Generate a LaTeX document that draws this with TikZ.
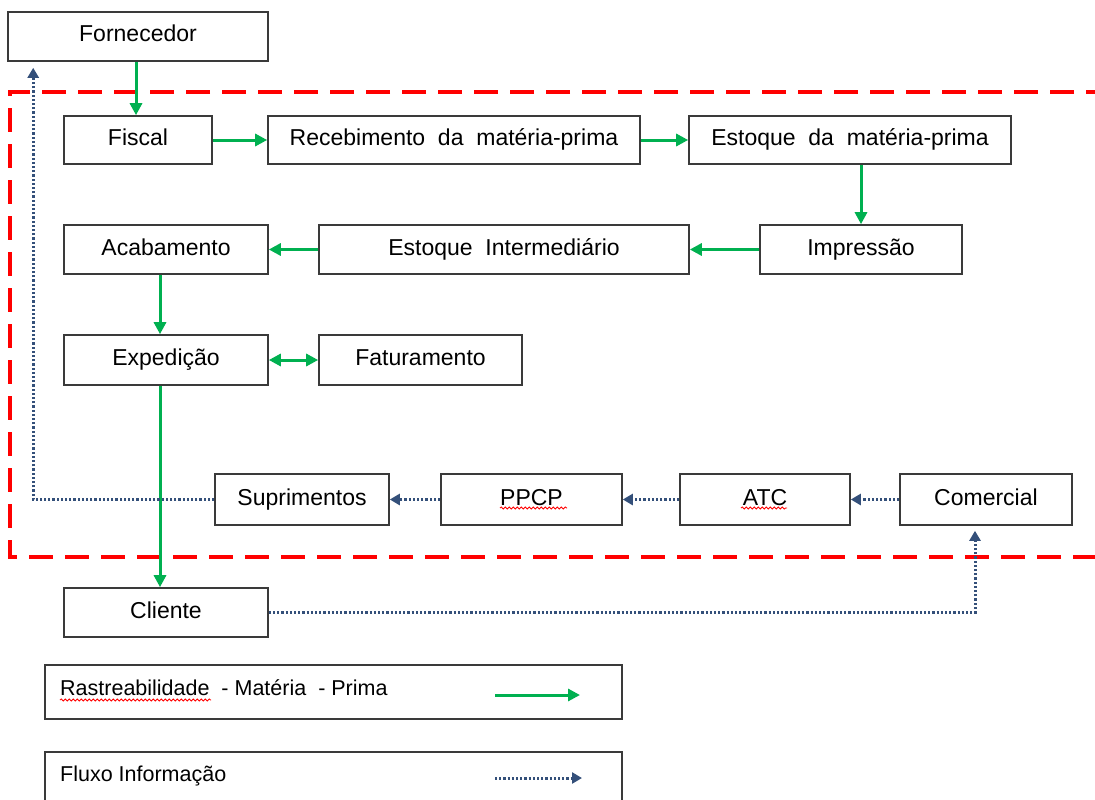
\documentclass[tikz,border=0pt]{standalone}
\usepackage{fontspec}
\setmainfont{Liberation Sans}
\usetikzlibrary{arrows.meta,decorations.pathmorphing,calc}
\definecolor{grn}{HTML}{00B050}
\definecolor{infob}{HTML}{34507A}
\definecolor{bord}{HTML}{3A3A3A}
\begin{document}
\begin{tikzpicture}[x=1pt,y=-1pt,
  box/.style={draw=bord, line width=1.6pt, inner sep=0pt, align=center,
    font=\fontsize{23}{27}\selectfont, text height=16.5pt, text depth=5.5pt},
  legtext/.style={font=\fontsize{21.5}{26}\selectfont, inner sep=0pt, anchor=base west},
  grarrow/.style={draw=grn, line width=3pt, -{Triangle[length=12pt,width=12pt]}},
  grboth/.style={draw=grn, line width=3pt, {Triangle[length=12pt,width=12pt]}-{Triangle[length=12pt,width=12pt]}},
  infoarrow/.style={draw=infob, line width=3pt, dash pattern=on 2.2pt off 2pt, -{Triangle[length=10pt,width=11pt]}},
  wavy/.style={draw=red, line width=0.8pt, decorate, decoration={snake, segment length=4pt, amplitude=1.1pt}},
  frame/.style={draw=red, line width=4.5pt, dash pattern=on 24pt off 12pt}
]
\useasboundingbox (0,0) rectangle (1095,800);
\clip (0,0) rectangle (1095,800);

% red dashed frame
\draw[frame] (1110,92) -- (10,92) -- (10,557) -- (1110,557);

% boxes
\node[box, minimum width=260, minimum height=49] (forn)   at (138,36.5)  {Fornecedor};
\node[box, minimum width=148, minimum height=48] (fisc)   at (138,140)   {Fiscal};
\node[box, minimum width=372, minimum height=48] (receb)  at (454,140)   {Recebimento\ \ da\ \ matéria-prima};
\node[box, minimum width=322, minimum height=48] (estmp)  at (850,140)   {Estoque\ \ da\ \ matéria-prima};
\node[box, minimum width=202, minimum height=49] (impr)   at (861,249.5) {Impressão};
\node[box, minimum width=370, minimum height=49] (estint) at (504,249.5) {Estoque\ \ Intermediário};
\node[box, minimum width=204, minimum height=49] (acab)   at (166,249.5) {Acabamento};
\node[box, minimum width=204, minimum height=50] (exped)  at (166,360)   {Expedição};
\node[box, minimum width=203, minimum height=50] (fatur)  at (420.5,360) {Faturamento};
\node[box, minimum width=174, minimum height=51] (supr)   at (302,499.5) {Suprimentos};
\node[box, minimum width=181, minimum height=51] (ppcp)   at (531.5,499.5) {PPCP};
\node[box, minimum width=170, minimum height=51] (atc)    at (765,499.5) {ATC};
\node[box, minimum width=172, minimum height=51] (comer)  at (986,499.5) {Comercial};
\node[box, minimum width=204, minimum height=49] (cli)    at (166,612.5) {Cliente};

% legend boxes
\node[draw=bord, line width=1.6pt, inner sep=0pt, minimum width=577, minimum height=54] (leg1) at (333.5,692) {};
\node[draw=bord, line width=1.6pt, inner sep=0pt, minimum width=577, minimum height=53] (leg2) at (333.5,778.5) {};
\node[legtext] (leg1t) at (60,695) {Rastreabilidade\ \ -\ Matéria\ \ -\ Prima};
\node[legtext] (leg2t) at (60,781) {Fluxo Informação};
\coordinate (g1) at (495,695);
\coordinate (g2) at (580,695);
\coordinate (b1) at (495,778);
\coordinate (b2) at (582,778);
\draw[grarrow] (g1) -- (g2);
\draw[infoarrow] (b1) -- (b2);

% spell-check underlines
\draw[wavy] (60,700) -- (211,700);
\draw[wavy] (500,508) -- (567,508);
\draw[wavy] (741,508) -- (787,508);

% green flow (raw material)
\draw[grarrow] ([xshift=-2]forn.south) -- ([xshift=-2]fisc.north);
\draw[grarrow] (fisc.east) -- (receb.west);
\draw[grarrow] (receb.east) -- (estmp.west);
\draw[grarrow] (impr.north |- estmp.south) -- (impr.north);
\draw[grarrow] (impr.west) -- (estint.east);
\draw[grarrow] (estint.west) -- (acab.east);
\draw[grarrow] ([xshift=-6]acab.south) -- ([xshift=-6]exped.north);
\draw[grboth] (exped.east) -- (fatur.west);
\draw[grarrow] ([xshift=-6]exped.south) -- ([xshift=-6]cli.north);

% information flow
\draw[infoarrow] (comer.west) -- (atc.east);
\draw[infoarrow] (atc.west) -- (ppcp.east);
\draw[infoarrow] (ppcp.west) -- (supr.east);
\draw[infoarrow, shorten >=6pt] (supr.west) -| ([xshift=26]forn.south west);
\draw[infoarrow, shorten >=5pt] (cli.east) -| ([xshift=-11]comer.south);
\end{tikzpicture}
\end{document}
